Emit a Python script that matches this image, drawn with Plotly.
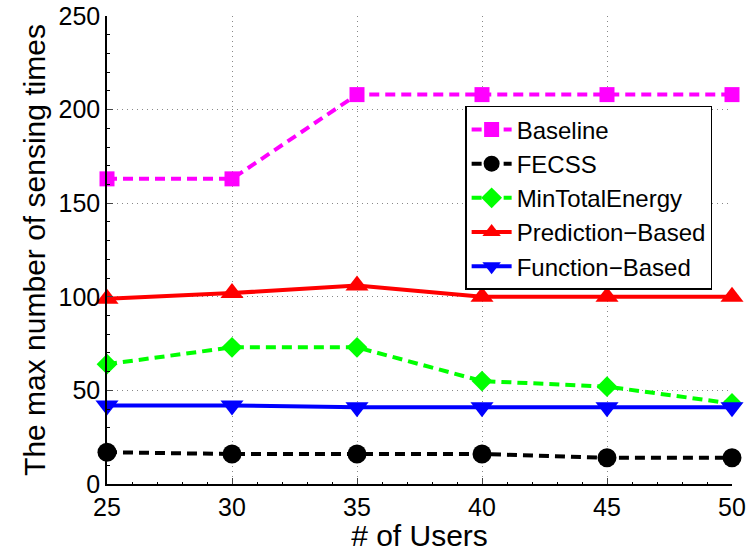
import plotly.graph_objects as go

users = [25, 30, 35, 40, 45, 50]
baseline = [163, 163, 208, 208, 208, 208]
fecss = [17, 16, 16, 16, 14, 14]
min_total_energy = [64, 73, 73, 55, 52, 43]
prediction_based = [99, 102, 106, 100, 100, 100]
function_based = [42, 42, 41, 41, 41, 41]

FONT = "Liberation Sans, Arial, Helvetica, sans-serif"
DASH = "10px,6px"

series = [
    ("Baseline", baseline, "#ff00ff", DASH, "square", 15),
    ("FECSS", fecss, "#000000", DASH, "circle", 19),
    ("MinTotalEnergy", min_total_energy, "#00ff00", DASH, "diamond", 16),
    ("Prediction\u2212Based", prediction_based, "#ff0000", "solid", "triangle-up", 20),
    ("Function\u2212Based", function_based, "#0000ff", "solid", "triangle-down", 20),
]

fig = go.Figure()
for name, vals, color, dash, sym, size in series:
    fig.add_trace(go.Scatter(
        x=users, y=vals, name=name, mode="lines+markers",
        line=dict(color=color, width=4, dash=dash),
        marker=dict(symbol=sym, size=size, color=color, line=dict(width=0)),
        cliponaxis=False,
    ))

fig.update_layout(
    width=748, height=552,
    margin=dict(l=107, r=16, t=16, b=68, autoexpand=False),
    plot_bgcolor="white", paper_bgcolor="white",
    font=dict(family=FONT, size=24, color="black"),
    showlegend=True,
    legend=dict(
        x=0.573, y=0.808, xanchor="left", yanchor="top",
        bordercolor="black", borderwidth=1.5, bgcolor="white",
        font=dict(size=24), tracegroupgap=0, itemwidth=40,
        entrywidth=215,
    ),
    xaxis=dict(
        range=[25, 50], tickvals=users, ticks="inside", ticklen=6,
        showline=True, linecolor="black", linewidth=1.5, automargin=False,
        showgrid=True, gridcolor="#888888", griddash="1px,4px", gridwidth=1,
        zeroline=False, tickfont=dict(size=25),
        minor=dict(ticks="inside", ticklen=2, dtick=1, showgrid=False, tickcolor="black"),
        title=dict(text="# of Users", font=dict(size=30), standoff=2),
    ),
    yaxis=dict(
        range=[0, 250], tickvals=[0, 50, 100, 150, 200, 250], ticks="inside", ticklen=6,
        showline=True, linecolor="black", linewidth=1.5, automargin=False,
        showgrid=True, gridcolor="#888888", griddash="1px,4px", gridwidth=1,
        zeroline=False, tickfont=dict(size=25),
        minor=dict(ticks="inside", ticklen=3, dtick=10, showgrid=False, tickcolor="black"),
        title=dict(text="The max number of sensing times", font=dict(size=30), standoff=4),
    ),
)

fig.write_html("out.html")
